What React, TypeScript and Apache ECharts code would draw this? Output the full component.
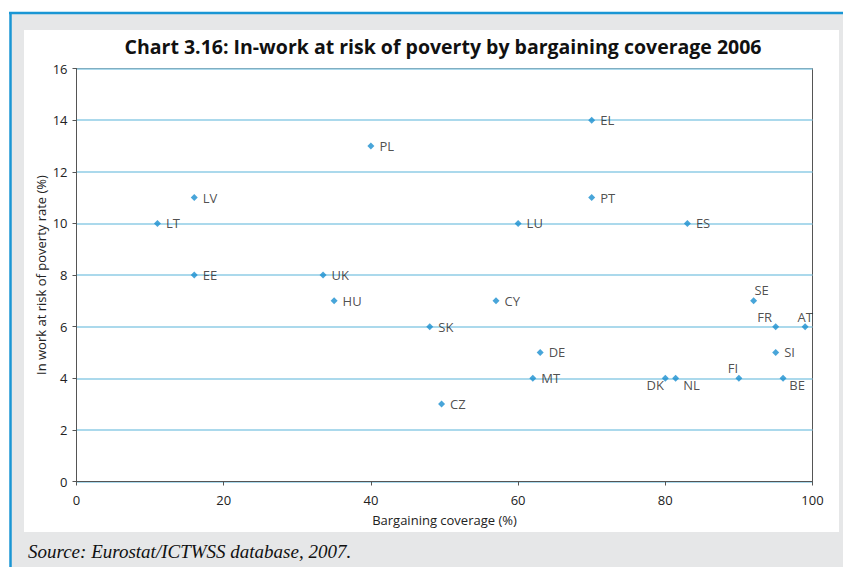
import React, { useEffect, useRef } from "react";
import * as echarts from "echarts";

const countries = ["LT", "LV", "EE", "UK", "HU", "PL", "SK", "CZ", "CY", "LU", "MT", "DE", "EL", "PT", "DK", "NL", "ES", "FI", "SE", "FR", "SI", "BE", "AT"];
const coverage = [11, 16, 16, 33.5, 35, 40, 48, 49.6, 57, 60, 62, 63, 70, 70, 80, 81.4, 83, 90, 92, 95, 95, 96, 99];
const povertyRate = [10, 11, 8, 8, 7, 13, 6, 3, 7, 10, 4, 5, 14, 11, 4, 4, 10, 4, 7, 6, 5, 4, 6];

const xTicks = { min: 0, max: 100, interval: 20 };
const yTicks = { min: 0, max: 16, interval: 2 };

// label placement (offsets from point centre), default is to the right
const labelOffsets: Record<string, [number, number]> = {
  DK: [-10, 7],
  NL: [16, 7],
  BE: [14, 7],
  FI: [-6, -10],
  SE: [8, -11],
  FR: [-11, -10],
  AT: [0, -10],
};

const FONT = "'Open Sans', 'Noto Sans', sans-serif";

export default function App() {
  const ref = useRef<HTMLDivElement>(null);
  useEffect(() => {
    if (!ref.current) return;
    const chart = echarts.init(ref.current, null, { renderer: "svg" });
    const data = countries.map((c, i) => {
      const off = labelOffsets[c];
      const item: any = { name: c, value: [coverage[i], povertyRate[i]] };
      if (off) {
        item.label = { position: "inside", offset: off, align: "center", verticalAlign: "middle" };
      }
      return item;
    });
    chart.setOption({
      animation: false,
      backgroundColor: "#ffffff",
      textStyle: { fontFamily: FONT },
      graphic: [
        { type: "rect", shape: { x: 11, y: 13, width: 832, height: 560 }, style: { fill: "#e6e7e8" }, z: -10 },
        { type: "rect", shape: { x: 24, y: 30, width: 815, height: 502 }, style: { fill: "#ffffff" }, z: -9 },
        { type: "line", shape: { x1: 9, y1: 13, x2: 843, y2: 13 }, style: { stroke: "#1a96d4", lineWidth: 2.5 }, z: -8 },
        { type: "line", shape: { x1: 10.5, y1: 12, x2: 10.5, y2: 567 }, style: { stroke: "#1a96d4", lineWidth: 2.5 }, z: -8 },
        {
          type: "text",
          x: 443,
          y: 46,
          style: {
            text: "Chart 3.16: In-work at risk of poverty by bargaining coverage 2006",
            align: "center",
            verticalAlign: "middle",
            font: "bold 19.5px 'Open Sans', sans-serif",
            fill: "#111111",
          },
        },
        {
          type: "text",
          x: 28,
          y: 551,
          style: {
            text: "Source: Eurostat/ICTWSS database, 2007.",
            verticalAlign: "middle",
            font: "italic 19px 'Liberation Serif', 'DejaVu Serif', serif",
            fill: "#111111",
          },
        },
      ],
      grid: {
        left: 76.5,
        right: 33.5,
        top: 68.5,
        bottom: 85.5,
        show: true,
        borderColor: "#555555",
        borderWidth: 1,
        backgroundColor: "transparent",
      },
      xAxis: {
        type: "value",
        ...xTicks,
        name: "Bargaining coverage (%)",
        nameLocation: "middle",
        nameGap: 32,
        nameTextStyle: { fontSize: 13, color: "#222222", fontFamily: FONT },
        axisLine: { show: true, lineStyle: { color: "#555555", width: 1 } },
        axisTick: { show: true, length: 4, lineStyle: { color: "#555555" } },
        axisLabel: { fontSize: 13, color: "#222222", margin: 12, fontFamily: FONT },
        splitLine: { show: false },
      },
      yAxis: {
        type: "value",
        ...yTicks,
        name: "In work at risk of poverty rate (%)",
        nameLocation: "middle",
        nameMoveOverlap: false,
        nameGap: 29,
        nameTextStyle: { fontSize: 13, color: "#222222", fontFamily: FONT },
        axisLine: { show: true, lineStyle: { color: "#555555", width: 1 } },
        axisTick: { show: true, length: 4, lineStyle: { color: "#555555" } },
        axisLabel: { fontSize: 13, color: "#222222", margin: 9, fontFamily: FONT },
        splitLine: { show: true, lineStyle: { color: "#8fcde6", width: 1.5 } },
      },
      series: [
        {
          type: "scatter",
          symbol: "diamond",
          symbolSize: 7,
          itemStyle: { color: "#1a8fd0" },
          data,
          label: {
            show: true,
            formatter: "{b}",
            position: "right",
            distance: 5,
            fontSize: 13,
            color: "#222222",
            fontFamily: FONT,
          },
          emphasis: { disabled: true },
        },
      ],
    });
    return () => chart.dispose();
  }, []);
  return <div ref={ref} style={{ position: "absolute", left: 0, top: 0, width: 846, height: 567 }} />;
}
